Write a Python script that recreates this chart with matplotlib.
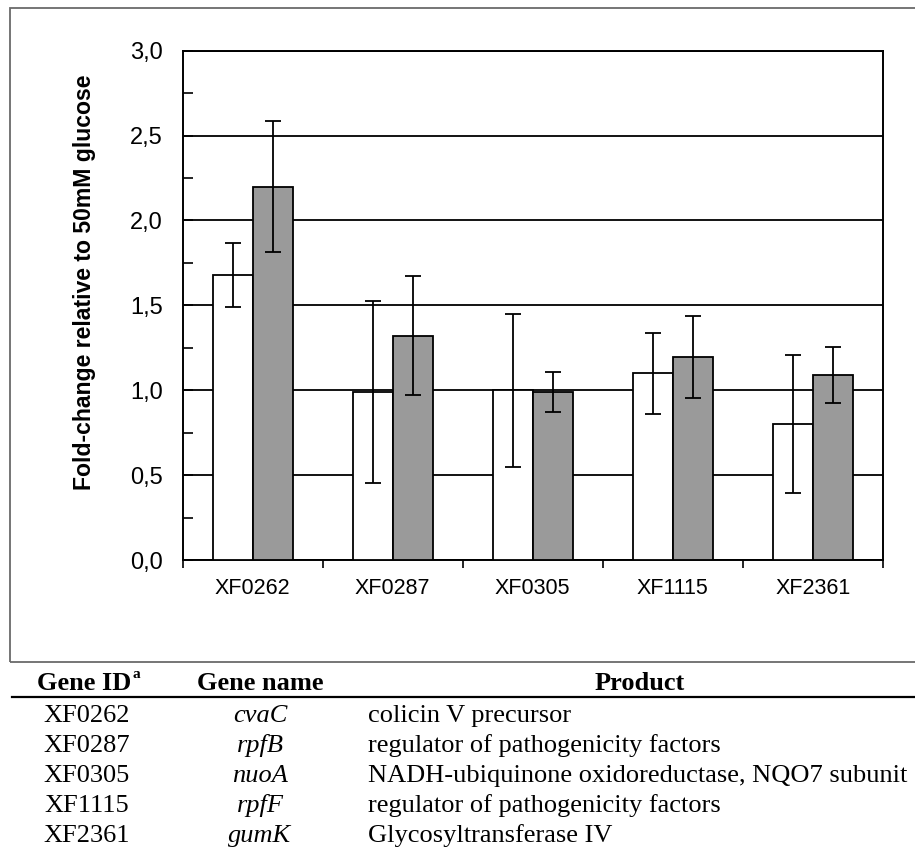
import matplotlib
matplotlib.use('Agg')
import matplotlib.pyplot as plt
from matplotlib.lines import Line2D
from matplotlib.patches import Rectangle
import numpy as np

# Data
genes = ['XF0262', 'XF0287', 'XF0305', 'XF1115', 'XF2361']
white_vals = [1.68, 0.99, 1.00, 1.10, 0.80]
white_err = [0.19, 0.535, 0.45, 0.24, 0.405]
gray_vals = [2.20, 1.32, 0.99, 1.195, 1.09]
gray_err = [0.385, 0.35, 0.12, 0.24, 0.165]
ytick_vals = [0.0, 0.5, 1.0, 1.5, 2.0, 2.5, 3.0]
ytick_labels = ['0,0', '0,5', '1,0', '1,5', '2,0', '2,5', '3,0']

# Table below the chart
table_header = ['Gene ID', 'Gene name', 'Product']
gene_names = ['cvaC', 'rpfB', 'nuoA', 'rpfF', 'gumK']
products = ['colicin V precursor',
            'regulator of pathogenicity factors',
            'NADH-ubiquinone oxidoreductase, NQO7 subunit',
            'regulator of pathogenicity factors',
            'Glycosyltransferase IV']

W, H = 915, 847
fig = plt.figure(figsize=(W / 100, H / 100), dpi=100)

def fx(px):
    return px / W

def fy(py):
    return 1 - py / H

# outer frame around the chart
fig.patches.append(Rectangle((fx(10), fy(661.5)), 1.2, fy(8) - fy(661.5),
                             transform=fig.transFigure, fill=False,
                             edgecolor='#6a6a6a', lw=1.3))

ax = fig.add_axes([fx(182.7), fy(560), fx(882.7) - fx(182.7), fy(50.7) - fy(560)])

x = np.arange(len(genes))
w = 0.2857
ekw = dict(ecolor='black', elinewidth=1.3, capthick=1.3)
ax.bar(x - w / 2, white_vals, w, color='white', edgecolor='black', lw=1.3,
       yerr=white_err, capsize=6, error_kw=ekw, zorder=3)
ax.bar(x + w / 2, gray_vals, w, color='#9a9a9a', edgecolor='black', lw=1.3,
       yerr=gray_err, capsize=6, error_kw=ekw, zorder=3)

ax.set_xlim(-0.5, len(genes) - 0.5)
ax.set_ylim(0, 3.0)
ax.set_yticks(ytick_vals)
ax.set_yticklabels(ytick_labels, fontsize=17, family='Liberation Sans')
ax.set_yticks(np.arange(0.25, 3.0, 0.5), minor=True)
ax.tick_params(axis='y', which='both', direction='in', length=7, width=1.2, pad=14.5)

ax.set_xticks(x)
ax.set_xticklabels(genes, fontsize=15.5, family='Liberation Sans')
ax.set_xticks(np.arange(-0.5, len(genes), 1.0), minor=True)
ax.tick_params(axis='x', which='major', length=0, pad=13)
ax.tick_params(axis='x', which='minor', direction='out', length=6, width=1.2)

ax.yaxis.grid(True, color='black', lw=1.3)
ax.set_axisbelow(True)
for s in ax.spines.values():
    s.set_linewidth(1.4)
    s.set_color('black')

fig.text(fx(85), fy(282), 'Fold-change relative to 50mM glucose', rotation=90,
         ha='center', va='center', fontsize=16.6, fontweight='bold',
         family='Liberation Sans')

# table
serif = 'Liberation Serif'
fs = 19
hdr_y = fy(690)
t = fig.text(fx(37), hdr_y, table_header[0], ha='left', va='baseline',
             fontsize=fs, fontweight='bold', family=serif)
ax.annotate('a', xy=(1, 0.62), xycoords=t, xytext=(1, 0), textcoords='offset points',
            ha='left', va='bottom', fontsize=11, fontweight='bold', family=serif,
            annotation_clip=False)
fig.text(fx(260), hdr_y, table_header[1], ha='center', va='baseline',
         fontsize=fs, fontweight='bold', family=serif)
fig.text(fx(640), hdr_y, table_header[2], ha='center', va='baseline',
         fontsize=fs, fontweight='bold', family=serif)
fig.add_artist(Line2D([fx(12), 1.0], [fy(697), fy(697)], transform=fig.transFigure,
                      color='black', lw=1.6))

for i, (g, n, p) in enumerate(zip(genes, gene_names, products)):
    yb = fy(721.7 + 30 * i)
    fig.text(fx(86.5), yb, g, ha='center', va='baseline', fontsize=fs, family=serif)
    fig.text(fx(260), yb, n, ha='center', va='baseline', fontsize=fs,
             style='italic', family=serif)
    fig.text(fx(368), yb, p, ha='left', va='baseline', fontsize=fs, family=serif)

fig.savefig('out.png', dpi=100)
